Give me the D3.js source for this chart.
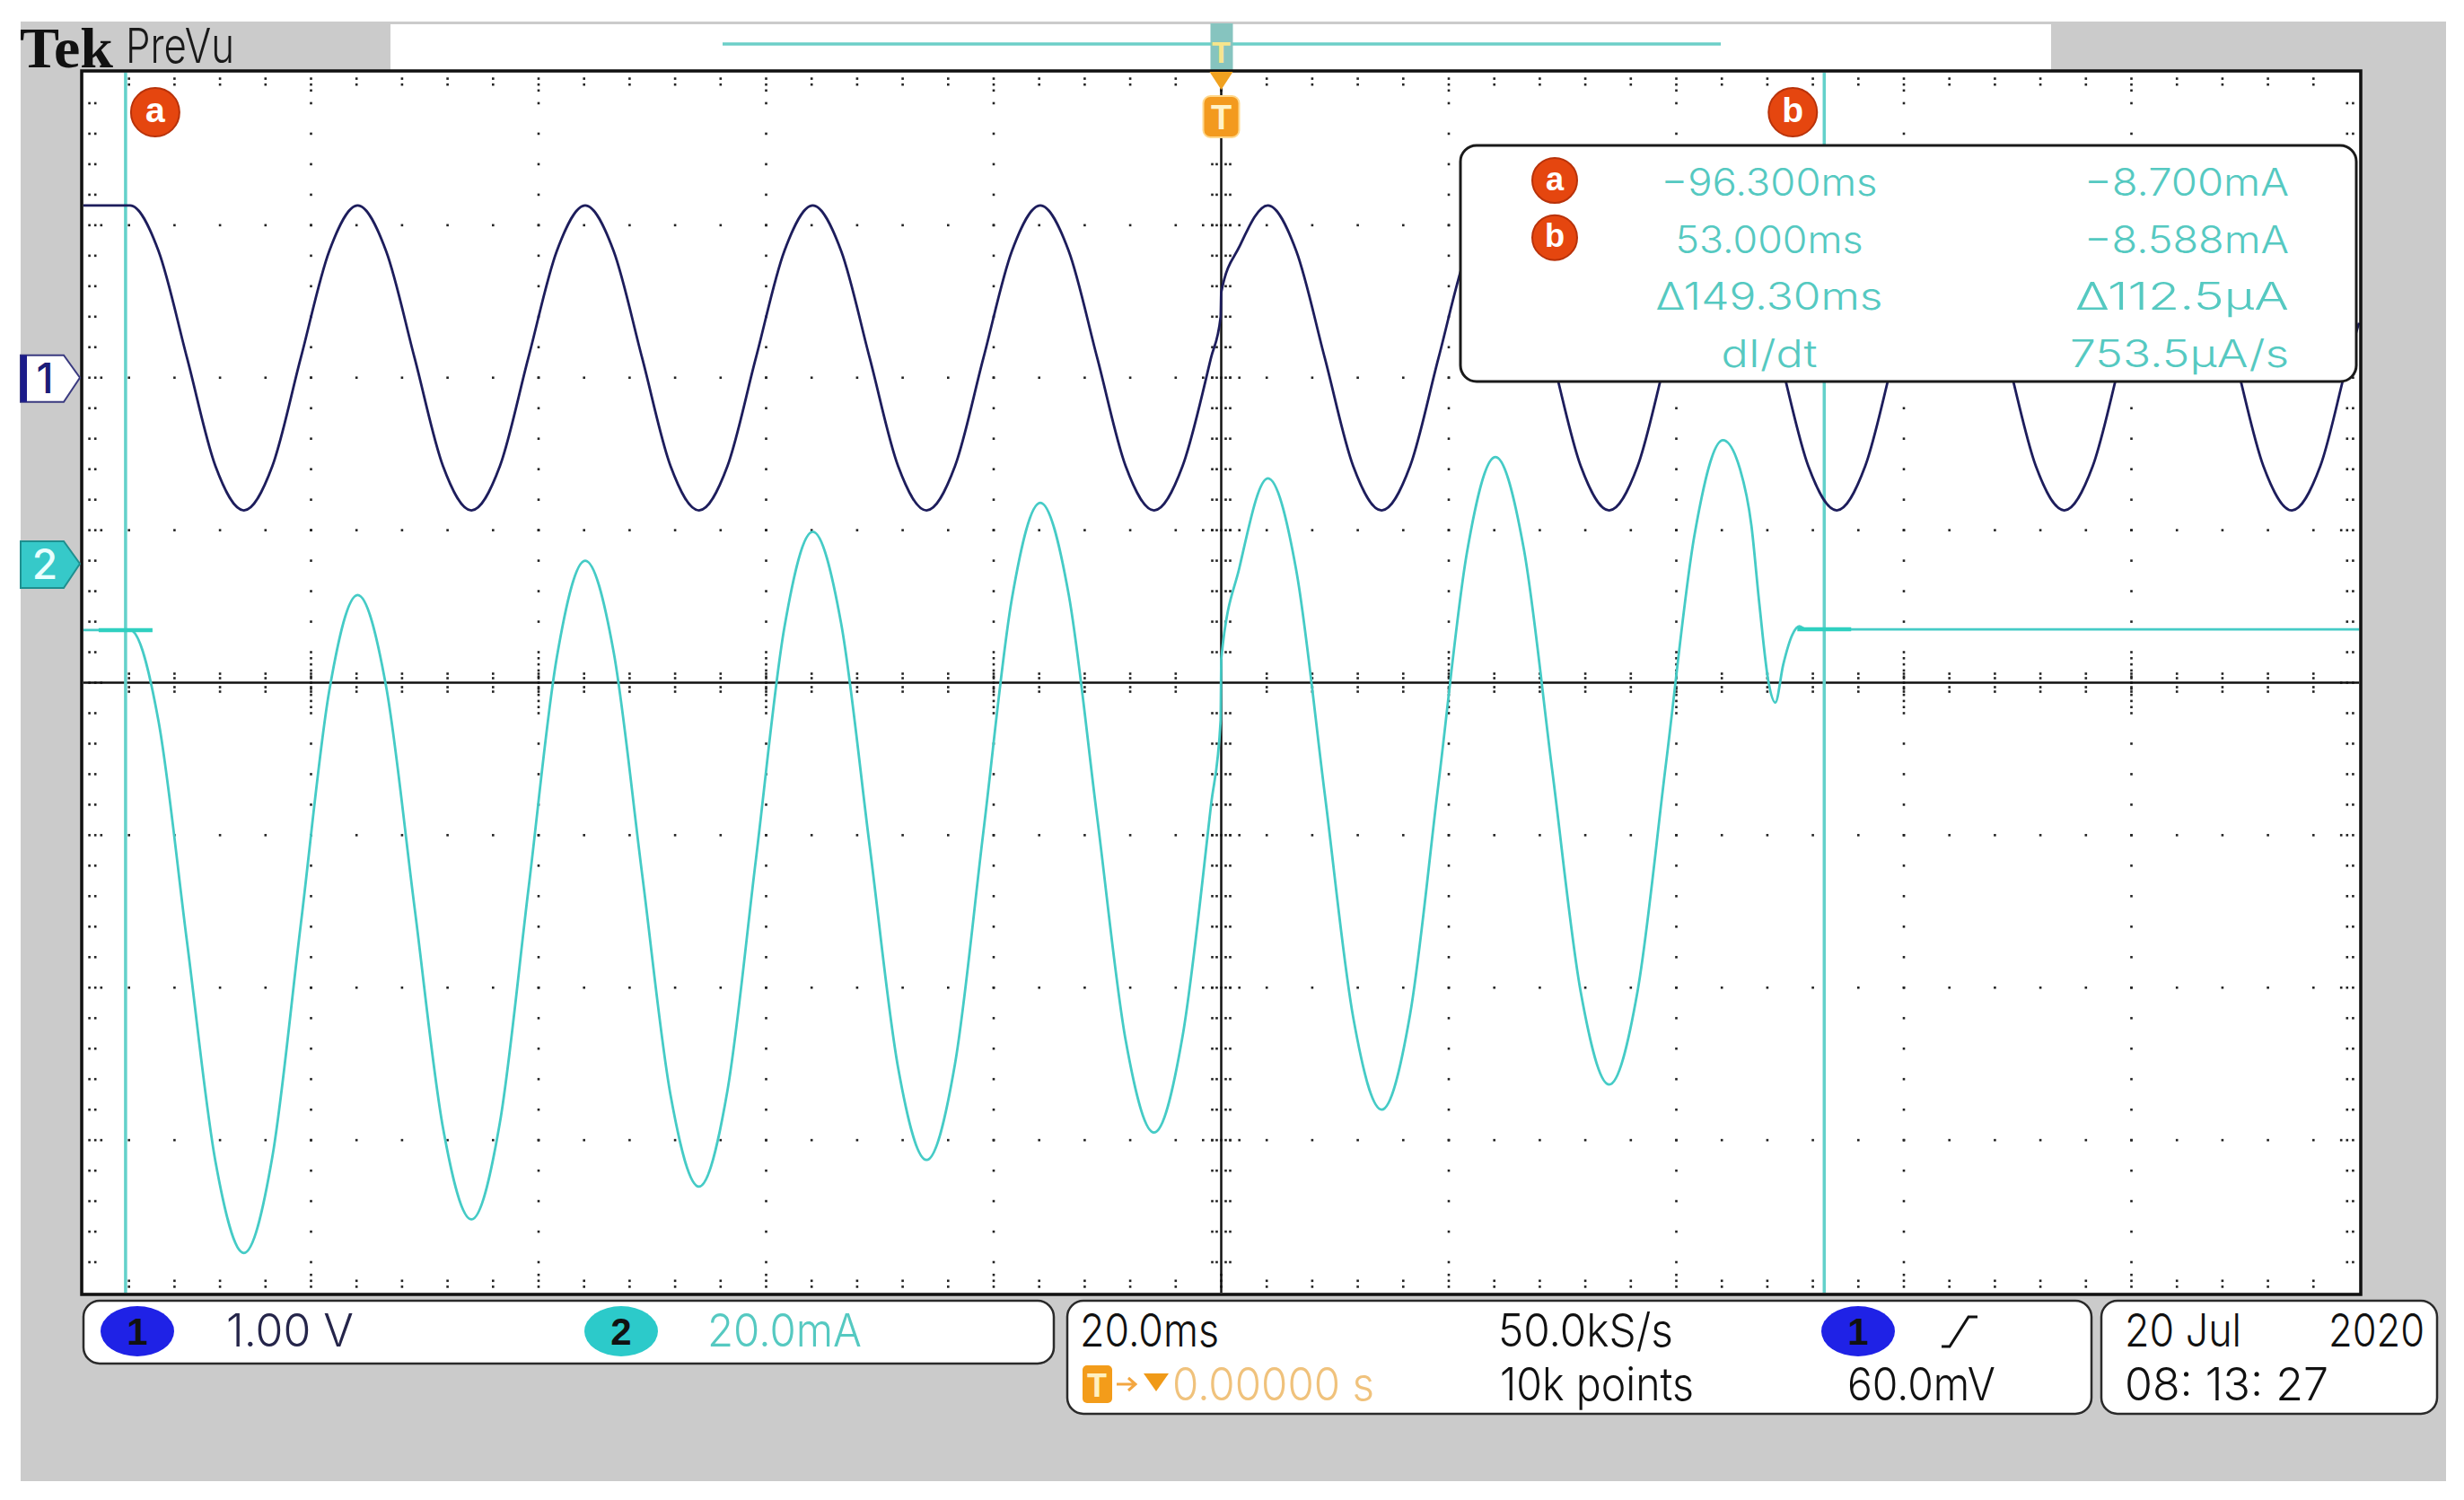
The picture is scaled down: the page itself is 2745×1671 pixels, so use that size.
<!DOCTYPE html>
<html>
<head>
<meta charset="utf-8">
<title>Tek PreVu</title>
<script src="https://cdn.jsdelivr.net/npm/d3@7"></script>
<style>
  body { margin: 0; background: #ffffff; }
  svg { display: block; }
</style>
</head>
<body>
<div id="chart"></div>
<script>
"use strict";

// time base: 20 ms/div, 10 divisions, trigger at 0
var timeRange = [-100, 100];
var cursorTimes = [-96.3, 53.0];
var cursorLevels = [-8.7, -8.588];   // mA, ch2 value at each cursor

// channel 1 (volts, 1.00 V/div)
var ch1Time = [-100, -95.9, -93.4, -90.9, -88.4, -85.9, -83.4, -80.9, -78.4,
    -75.9, -73.4, -70.9, -68.4, -65.9, -63.4, -60.9, -58.4,
    -55.9, -53.4, -50.9, -48.4, -45.9, -43.4, -40.9, -38.4,
    -35.9, -33.4, -30.9, -28.4, -25.9, -23.4, -20.9, -18.4,
    -15.9, -13.4, -10.9, -8.4, -5.9, -3.4, -0.9, -0.05,
    0, 1.6, 4.1, 6.6, 9.1, 11.6, 14.1, 16.6, 19.1, 21.6,
    24.1, 26.6, 29.1, 31.6, 34.1, 36.6, 39.1, 41.6,
    44.1, 46.6, 49.1, 51.6, 54.1, 56.6, 59.1, 61.6,
    64.1, 66.6, 69.1, 71.6, 74.1, 76.6, 79.1, 81.6,
    84.1, 86.6, 89.1, 91.6, 94.1, 96.6, 99.1, 100];
var ch1Volts = [1.13, 1.13, 0.83, 0.13, -0.58, -0.87, -0.58, 0.13, 0.83,
    1.13, 0.83, 0.13, -0.58, -0.87, -0.58, 0.13, 0.83,
    1.13, 0.83, 0.13, -0.58, -0.87, -0.58, 0.13, 0.83,
    1.13, 0.83, 0.13, -0.58, -0.87, -0.58, 0.13, 0.83,
    1.13, 0.83, 0.13, -0.58, -0.87, -0.58, 0.13, 0.40,
    0.56, 0.86, 1.13, 0.83, 0.13, -0.58, -0.87, -0.58, 0.13, 0.83,
    1.13, 0.83, 0.13, -0.58, -0.87, -0.58, 0.13, 0.83,
    1.13, 0.83, 0.13, -0.58, -0.87, -0.58, 0.13, 0.83,
    1.13, 0.83, 0.13, -0.58, -0.87, -0.58, 0.13, 0.83,
    1.13, 0.83, 0.13, -0.58, -0.87, -0.58, 0.13, 0.36];

// channel 2 (mA, 20.0 mA/div)
var ch2Time = [-100, -95.9, -93.4, -90.9, -88.4, -85.9, -83.4, -80.9, -78.4,
    -75.9, -73.4, -70.9, -68.4, -65.9, -63.4, -60.9, -58.4,
    -55.9, -53.4, -50.9, -48.4, -45.9, -43.4, -40.9, -38.4,
    -35.9, -33.4, -30.9, -28.4, -25.9, -23.4, -20.9, -18.4,
    -15.9, -13.4, -10.9, -8.4, -5.9, -3.4, -0.9, -0.05,
    0, 1.6, 4.1, 6.6, 9.1, 11.6, 14.1, 16.6, 19.1, 21.6,
    24.1, 26.6, 29.1, 31.6, 34.1, 36.6, 39.1, 41.6, 44.1,
    45.6, 46.6, 47.3, 48.1, 48.7, 49.4, 50.2, 50.8, 51.4, 100];
var ch2Milliamps = [-8.7, -8.7, -20.7, -49.6, -78.4, -90.4, -77.8, -47.3, -16.7,
    -4.1, -16.1, -45.1, -74.0, -86.0, -73.3, -42.8, -12.3,
    0.4, -11.6, -40.7, -69.7, -81.7, -69.1, -38.8, -8.4,
    4.2, -7.9, -37.0, -66.1, -78.2, -65.6, -35.1, -4.6,
    8.0, -4.1, -33.3, -62.5, -74.6, -62.0, -31.7, -20.5,
    -12.5, -0.5, 11.2, -0.9, -30.2, -59.5, -71.6, -59.1, -28.8, 1.5,
    14.0, 1.9, -27.2, -56.2, -68.3, -56.0, -26.1, 3.8, 16.2,
    12.4, 5.0, -5.3, -15.5, -18.2, -13.2, -9.3, -8.2, -8.6, -8.6];

// readout texts
var cursorNames = ["a", "b", "", ""];
var timeReadouts = ["\u221296.300ms", "53.000ms", "\u0394149.30ms", "dI/dt"];
var valueReadouts = ["\u22128.700mA", "\u22128.588mA", "\u0394112.5\u03bcA", "753.5\u03bcA/s"];
var scaleLabels = ["1.00 V", "20.0mA"];
var acqLabels = ["20.0ms", "50.0kS/s", "10k points"];
var trigLabels = ["0.00000 s", "60.0mV"];
var dateLabels = ["20 Jul", "2020", "08: 13: 27"];

var W = 2745,
    H = 1671,
    FONT = "Inter, 'Liberation Sans', Arial, sans-serif",
    TEAL = "#55c9c1",
    PLOT = {left: 93, right: 2628, top: 81, bottom: 1440},
    CH1_OFFSET = 2,      // divisions
    CH2_OFFSET = 0.78,   // divisions
    svg, x, xDiv, yDiv, y1, y2, dots, i, j, k, m, cx, cy, box;

svg = d3.select("#chart").append("svg")
    .attr("width", W)
    .attr("height", H);

// scales
x = d3.scaleLinear().domain(timeRange).range([PLOT.left, PLOT.right]);
xDiv = d3.scaleLinear().domain([0, 10]).range([PLOT.left, PLOT.right]);
yDiv = d3.scaleLinear().domain([0, 8]).range([PLOT.top, PLOT.bottom]);
y1 = d3.scaleLinear()
    .domain([(-4 - CH1_OFFSET) * 1.0, (4 - CH1_OFFSET) * 1.0])
    .range([PLOT.bottom, PLOT.top]);
y2 = d3.scaleLinear()
    .domain([(-4 - CH2_OFFSET) * 20, (4 - CH2_OFFSET) * 20])
    .range([PLOT.bottom, PLOT.top]);
cx = xDiv(5);
cy = yDiv(4);

function addText(parent, px, py, str, o) {
    var t = parent.append("text")
        .attr("x", px)
        .attr("y", py)
        .attr("font-family", o.family || FONT)
        .attr("font-size", o.size)
        .attr("fill", o.color || "#111")
        .attr("text-anchor", o.anchor || "start")
        .attr("font-weight", o.weight || 300)
        .text(str);
    if (o.width) {
        t.attr("textLength", o.width).attr("lengthAdjust", "spacingAndGlyphs");
    }
    return t;
}

function badge(parent, px, py, r, letter) {
    parent.append("circle")
        .attr("cx", px).attr("cy", py).attr("r", r)
        .attr("fill", "#e5460f")
        .attr("stroke", "#b8320a")
        .attr("stroke-width", 2);
    addText(parent, px, py + r * 0.42, letter, {
        size: r * 1.45, anchor: "middle", color: "#fff", weight: "bold",
        family: "'Liberation Sans', Arial, sans-serif"
    });
}

function pill(parent, px, py, fill, label) {
    parent.append("ellipse")
        .attr("cx", px).attr("cy", py).attr("rx", 41).attr("ry", 28)
        .attr("fill", fill);
    addText(parent, px, py + 15, label, {size: 42, anchor: "middle", color: "#111", weight: "bold",
        family: "'Liberation Sans', Arial, sans-serif"});
}

// grey instrument frame
svg.append("rect")
    .attr("x", 23).attr("y", 24).attr("width", 2702).attr("height", 1626)
    .attr("fill", "#cbcbcb");

// header
addText(svg, 22, 75, "Tek", {size: 64, family: "'Liberation Serif', serif", weight: "bold",
    width: 104, color: "#111"});
addText(svg, 140, 70, "PreVu", {size: 54, width: 121, color: "#1a1a1a"});

// record view bar
svg.append("rect")
    .attr("x", 435).attr("y", 27).attr("width", 1850).attr("height", 52)
    .attr("fill", "#ffffff");
svg.append("line")
    .attr("x1", 805).attr("x2", 1917).attr("y1", 49).attr("y2", 49)
    .attr("stroke", "#6ccfc8").attr("stroke-width", 3.5);
svg.append("rect")
    .attr("x", x(0) - 12).attr("y", 26).attr("width", 25).attr("height", 53)
    .attr("fill", "#86c4bf");
addText(svg, x(0), 70, "T", {size: 34, anchor: "middle", color: "#f6e58c", weight: "bold",
    family: "'Liberation Sans', Arial, sans-serif"});

// plot area
svg.append("rect")
    .attr("x", PLOT.left).attr("y", PLOT.top)
    .attr("width", PLOT.right - PLOT.left).attr("height", PLOT.bottom - PLOT.top)
    .attr("fill", "#ffffff");

// graticule dots
dots = [];
for (i = 1; i <= 9; i++) {
    if (i === 5) { continue; }
    for (j = 1; j <= 39; j++) {
        dots.push([xDiv(i), yDiv(j / 5)]);
    }
    for (m = 1; m <= 4; m++) {
        dots.push([xDiv(i), cy - m * 6.8]);
        dots.push([xDiv(i), cy + m * 6.8]);
    }
}
for (k = 1; k <= 7; k++) {
    if (k === 4) { continue; }
    for (i = 1; i <= 49; i++) {
        dots.push([xDiv(i / 5), yDiv(k)]);
    }
    for (m = 1; m <= 2; m++) {
        dots.push([cx - m * 10.1, yDiv(k)]);
        dots.push([cx + m * 10.1, yDiv(k)]);
    }
}
// ticks on the frame edges and the centre cross
for (j = 1; j <= 39; j++) {
    for (m = 1; m <= (j % 5 === 0 ? 3 : 2); m++) {
        dots.push([PLOT.left + m * 6.6, yDiv(j / 5)]);
        dots.push([PLOT.right - m * 6.6, yDiv(j / 5)]);
    }
    if (j !== 20) {
        dots.push([cx - 5, yDiv(j / 5)], [cx - 10, yDiv(j / 5)],
            [cx + 5, yDiv(j / 5)], [cx + 10, yDiv(j / 5)]);
    }
}
for (i = 1; i <= 49; i++) {
    for (m = 1; m <= (i % 5 === 0 ? 3 : 2); m++) {
        dots.push([xDiv(i / 5), PLOT.top + m * 6.6]);
        dots.push([xDiv(i / 5), PLOT.bottom - m * 6.6]);
    }
    if (i !== 25) {
        dots.push([xDiv(i / 5), cy - 5], [xDiv(i / 5), cy - 10],
            [xDiv(i / 5), cy + 5], [xDiv(i / 5), cy + 10]);
    }
}
svg.append("g").selectAll("rect")
    .data(dots)
    .join("rect")
    .attr("x", function(d) { return d[0] - 1.3; })
    .attr("y", function(d) { return d[1] - 1.3; })
    .attr("width", 2.6)
    .attr("height", 2.6)
    .attr("fill", "#222");

// centre cross
svg.append("line")
    .attr("x1", PLOT.left).attr("x2", PLOT.right).attr("y1", cy).attr("y2", cy)
    .attr("stroke", "#111").attr("stroke-width", 2.5);
svg.append("line")
    .attr("x1", cx).attr("x2", cx).attr("y1", PLOT.top).attr("y2", PLOT.bottom)
    .attr("stroke", "#111").attr("stroke-width", 2.5);

// cursor lines
svg.append("g").selectAll("line")
    .data(cursorTimes)
    .join("line")
    .attr("x1", function(d) { return x(d); })
    .attr("x2", function(d) { return x(d); })
    .attr("y1", PLOT.top)
    .attr("y2", PLOT.bottom)
    .attr("stroke", "#63d1ca")
    .attr("stroke-width", 3.5);

// traces
svg.append("path")
    .datum(d3.zip(ch2Time, ch2Milliamps))
    .attr("fill", "none")
    .attr("stroke", "#45cbc6")
    .attr("stroke-width", 2.8)
    .attr("d", d3.line()
        .x(function(d) { return x(d[0]); })
        .y(function(d) { return y2(d[1]); })
        .curve(d3.curveMonotoneX));

svg.append("path")
    .datum(d3.zip(ch1Time, ch1Volts))
    .attr("fill", "none")
    .attr("stroke", "#1d1d5c")
    .attr("stroke-width", 2.8)
    .attr("d", d3.line()
        .x(function(d) { return x(d[0]); })
        .y(function(d) { return y1(d[1]); })
        .curve(d3.curveMonotoneX));

// cursor level stubs on ch2
svg.append("g").selectAll("line")
    .data(d3.zip(cursorTimes, cursorLevels))
    .join("line")
    .attr("x1", function(d) { return Math.max(PLOT.left + 3, x(d[0]) - 30); })
    .attr("x2", function(d) { return x(d[0]) + 30; })
    .attr("y1", function(d) { return y2(d[1]); })
    .attr("y2", function(d) { return y2(d[1]); })
    .attr("stroke", "#2fd0c0")
    .attr("stroke-width", 4.5);

// frame
svg.append("rect")
    .attr("x", PLOT.left - 2).attr("y", PLOT.top - 2)
    .attr("width", PLOT.right - PLOT.left + 4).attr("height", PLOT.bottom - PLOT.top + 4)
    .attr("fill", "none")
    .attr("stroke", "#111")
    .attr("stroke-width", 3.5);

// cursor badges at the top of the graticule
badge(svg, x(cursorTimes[0]) + 33, 125, 27, cursorNames[0]);
badge(svg, x(cursorTimes[1]) - 35, 125, 27, cursorNames[1]);

// trigger position marker
svg.append("path")
    .attr("d", "M" + (x(0) - 13) + ",80 L" + (x(0) + 13) + ",80 L" + x(0) + ",100 Z")
    .attr("fill", "#f0a11f");
svg.append("rect")
    .attr("x", x(0) - 20).attr("y", 107).attr("width", 40).attr("height", 46).attr("rx", 8)
    .attr("fill", "#f39a1e").attr("stroke", "#ffd88c").attr("stroke-width", 2);
addText(svg, x(0), 144, "T", {size: 38, anchor: "middle", color: "#fff3c8", weight: "bold",
    family: "'Liberation Sans', Arial, sans-serif"});

// channel ground markers
function chMarker(level, fill, stroke, txtColor, label) {
    var tip = level, top = tip - 25, bot = tip + 27;
    svg.append("path")
        .attr("d", "M23," + top + " L71," + top + " L89," + tip + " L71," + bot + " L23," + bot + " Z")
        .attr("fill", fill).attr("stroke", stroke).attr("stroke-width", 2);
    addText(svg, 50, tip + 17, label, {size: 46, anchor: "middle", color: txtColor, weight: 500});
}
chMarker(y1(0), "#ffffff", "#3a3a80", "#1c1c78", "1");
svg.append("rect").attr("x", 23).attr("y", y1(0) - 25).attr("width", 7).attr("height", 52)
    .attr("fill", "#1c1c8a");
chMarker(y2(0), "#36c9c9", "#1f8f8f", "#e9ffff", "2");

// cursor readout box
box = svg.append("g");
box.append("rect")
    .attr("x", 1627).attr("y", 162).attr("width", 998).attr("height", 263).attr("rx", 18)
    .attr("fill", "#ffffff").attr("stroke", "#1a1a1a").attr("stroke-width", 3);
timeReadouts.forEach(function(t, r) {
    var base = 218 + r * 63.7;
    if (cursorNames[r]) {
        badge(box, 1732, base - 17, 25, cursorNames[r]);
    }
    addText(box, 1971, base, t, {size: 42, anchor: "middle", color: TEAL,
        width: [241, 209, 253, 107][r]});
    addText(box, 2550, base, valueReadouts[r], {size: 42, anchor: "end", color: TEAL,
        width: [228, 228, 238, 244][r]});
});

// bottom status boxes
function statusBox(x0, x1, y0, y1b) {
    svg.append("rect")
        .attr("x", x0).attr("y", y0).attr("width", x1 - x0).attr("height", y1b - y0).attr("rx", 18)
        .attr("fill", "#ffffff").attr("stroke", "#2a2a2a").attr("stroke-width", 2.5);
}
statusBox(93, 1174, 1449, 1519);
statusBox(1189, 2330, 1449, 1575);
statusBox(2341, 2715, 1449, 1575);

pill(svg, 153, 1483, "#1f22e6", "1");
addText(svg, 252, 1500, scaleLabels[0], {size: 51, width: 142, color: "#25254a"});
pill(svg, 692, 1483, "#2ccaca", "2");
addText(svg, 788, 1500, scaleLabels[1], {size: 51, width: 172, color: TEAL});

addText(svg, 1203, 1500, acqLabels[0], {size: 51, width: 155});
addText(svg, 1669, 1500, acqLabels[1], {size: 51, width: 195});
addText(svg, 1671, 1560, acqLabels[2], {size: 51, width: 216});

pill(svg, 2070, 1483, "#1f22e6", "1");
svg.append("path")
    .attr("d", "M2163,1500 H2172 L2193,1467 H2203")
    .attr("fill", "none").attr("stroke", "#111").attr("stroke-width", 3);
addText(svg, 2058, 1560, trigLabels[1], {size: 51, width: 165});

// trigger delay readout
svg.append("rect")
    .attr("x", 1206).attr("y", 1521).attr("width", 33).attr("height", 42).attr("rx", 5)
    .attr("fill", "#f39c1a");
addText(svg, 1222, 1556, "T", {size: 36, anchor: "middle", color: "#fff0c0", weight: "bold",
    family: "'Liberation Sans', Arial, sans-serif"});
svg.append("path")
    .attr("d", "M1244,1542 H1264 M1257,1535 L1265,1542 L1257,1549")
    .attr("fill", "none").attr("stroke", "#f3a640").attr("stroke-width", 3);
svg.append("path")
    .attr("d", "M1274,1530 H1302 L1288,1550 Z")
    .attr("fill", "#f09a18");
addText(svg, 1306, 1560, trigLabels[0], {size: 51, width: 225, color: "#f0c27c"});

addText(svg, 2367, 1500, dateLabels[0], {size: 51, width: 130});
addText(svg, 2701, 1500, dateLabels[1], {size: 51, width: 107, anchor: "end"});
addText(svg, 2367, 1560, dateLabels[2], {size: 51, width: 227});
</script>
</body>
</html>
